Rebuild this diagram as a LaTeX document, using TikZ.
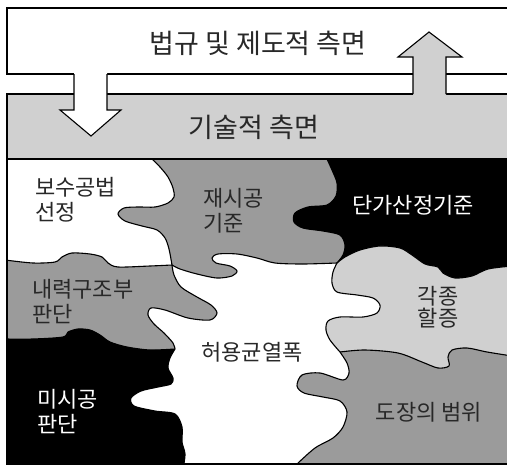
\documentclass[tikz,border=0pt]{standalone}
\usepackage{fontspec}
\setmainfont{Noto Sans CJK KR}
\definecolor{lightgr}{RGB}{208,208,208}
\definecolor{midgr}{RGB}{155,155,155}
\definecolor{txt}{RGB}{40,40,40}
\tikzset{
  bd/.style={draw=black, line width=1.1pt, line join=round},
  frameline/.style={draw=black, line width=1.1pt},
  lbl/.style={inner sep=0pt, text=txt, font=\fontsize{22}{25}\selectfont},
  lblw/.style={lbl, text=white},
  big/.style={inner sep=0pt, text=txt, font=\fontsize{27}{30}\selectfont},
}
\begin{document}
\begin{tikzpicture}[x=1pt,y=-1pt]
\useasboundingbox (0,0) rectangle (507,466);
\clip (0,0) rectangle (507,466);
% bands
\draw[frameline, fill=white] (7,8) rectangle (525,74);
\draw[frameline, fill=lightgr] (7,94) rectangle (525,159);
% down arrow
\fill[white] (74,73) -- (74,110) -- (60,110) -- (91,136) -- (121,110) -- (107,110) -- (107,73) -- cycle;
\draw[frameline, line join=miter] (74,74) -- (74,110) -- (60,110) -- (91,136) -- (121,110) -- (107,110) -- (107,74);
% up arrow
\fill[lightgr] (413,95) -- (413,57) -- (398,57) -- (429,32) -- (462,57) -- (446,57) -- (446,95) -- cycle;
\draw[frameline, line join=miter] (413,94) -- (413,57) -- (398,57) -- (429,32) -- (462,57) -- (446,57) -- (446,94);
\node[big] (t1) at (258,43) {법규 및 제도적 측면};
\node[big] (t2) at (254,127) {기술적 측면};
% puzzle
\begin{scope}
\clip (7,159) rectangle (507,464);
\fill[white] (0,150) rectangle (520,470);
% 재시공 기준
\fill[midgr] (152,150) -- plot[smooth] coordinates {(152,159) (160,167) (168,177) (173,188) (174,197) (168,203) (155,207) (138,207) (124,208) (118,214) (125,221) (142,226) (157,230) (165,238) (169,249) (172,265)}
 -- plot[smooth] coordinates {(172,265) (180,269) (197,274) (217,278) (232,276) (237,271) (230,266) (216,263) (212,258) (218,254) (237,254) (257,258) (275,263) (303,264) (337,263)}
 -- plot[smooth] coordinates {(337,263) (343,255) (345,245) (340,235) (323,231) (303,228) (294,222) (295,213) (308,207) (327,205) (336,196) (337,183) (332,170) (327,159)}
 -- (327,150) -- cycle;
% 단가산정기준
\fill[black] (327,150) -- plot[smooth] coordinates {(327,159) (332,170) (337,183) (336,196) (327,205) (308,207) (295,213) (294,222) (303,228) (323,231) (340,235) (345,245) (343,255) (337,263)}
 -- plot[smooth] coordinates {(337,263) (345,257) (360,250) (380,246) (400,248) (412,255) (425,264) (438,267) (443,273) (455,278) (472,276) (488,269) (512,266)}
 -- (512,150) -- cycle;
% 각종 할증
\fill[lightgr] (337,263) -- plot[smooth] coordinates {(337,263) (333,272) (332,283) (337,292) (357,295) (373,298) (380,305) (377,313) (363,317) (340,317) (328,321) (326,330) (330,340) (340,352)}
 -- plot[smooth] coordinates {(340,352) (365,350) (398,353) (422,362) (438,368) (449,366) (448,357) (452,350) (467,348) (487,352) (512,356)}
 -- plot[smooth] coordinates {(512,266) (488,269) (472,276) (455,278) (443,273) (438,267) (425,264) (412,255) (400,248) (380,246) (360,250) (345,257) (337,263)}
 -- cycle;
% 도장의 범위
\fill[midgr] (297,470) -- plot[smooth] coordinates {(297,464) (315,448) (333,438) (343,427) (347,412) (340,401) (323,397) (304,393) (297,386) (302,375) (320,373) (343,380) (349,373) (347,363) (340,352)}
 -- plot[smooth] coordinates {(340,352) (365,350) (398,353) (422,362) (438,368) (449,366) (448,357) (452,350) (467,348) (487,352) (512,356)}
 -- (512,470) -- cycle;
% 내력구조부 판단
\fill[midgr] (0,260) -- plot[smooth] coordinates {(5,260) (33,263) (55,262) (62,257) (72,253) (90,254) (102,257) (108,263) (118,267) (150,266) (172,265)}
 -- plot[smooth] coordinates {(172,265) (174,275) (181,287) (197,297) (211,305) (217,313) (210,320) (188,318) (165,310) (151,308) (148,315) (154,324) (164,333) (173,343) (175,349)}
 -- plot[smooth] coordinates {(175,349) (150,350) (127,347) (110,342) (100,335) (90,330) (78,329) (68,332) (63,337) (33,339) (5,339)}
 -- (0,339) -- cycle;
% 미시공 판단
\fill[black] (0,339) -- plot[smooth] coordinates {(5,339) (33,339) (63,337) (68,332) (78,329) (90,330) (100,335) (110,342) (127,347) (150,350) (175,349)}
 -- plot[smooth] coordinates {(175,349) (170,358) (168,368) (173,378) (171,384) (158,387) (141,391) (131,398) (134,406) (155,411) (175,414) (182,427) (182,442) (185,454) (183,470)}
 -- (0,470) -- cycle;
% boundaries
\draw[bd] plot[smooth] coordinates {(152,159) (160,167) (168,177) (173,188) (174,197) (168,203) (155,207) (138,207) (124,208) (118,214) (125,221) (142,226) (157,230) (165,238) (169,249) (172,265)};
\draw[bd] plot[smooth] coordinates {(172,265) (180,269) (197,274) (217,278) (232,276) (237,271) (230,266) (216,263) (212,258) (218,254) (237,254) (257,258) (275,263) (303,264) (337,263)};
\draw[bd] plot[smooth] coordinates {(327,159) (332,170) (337,183) (336,196) (327,205) (308,207) (295,213) (294,222) (303,228) (323,231) (340,235) (345,245) (343,255) (337,263)};
\draw[bd] plot[smooth] coordinates {(337,263) (345,257) (360,250) (380,246) (400,248) (412,255) (425,264) (438,267) (443,273) (455,278) (472,276) (488,269) (512,266)};
\draw[bd] plot[smooth] coordinates {(337,263) (333,272) (332,283) (337,292) (357,295) (373,298) (380,305) (377,313) (363,317) (340,317) (328,321) (326,330) (330,340) (340,352)};
\draw[bd] plot[smooth] coordinates {(340,352) (365,350) (398,353) (422,362) (438,368) (449,366) (448,357) (452,350) (467,348) (487,352) (512,356)};
\draw[bd] plot[smooth] coordinates {(297,464) (315,448) (333,438) (343,427) (347,412) (340,401) (323,397) (304,393) (297,386) (302,375) (320,373) (343,380) (349,373) (347,363) (340,352)};
\draw[bd] plot[smooth] coordinates {(5,260) (33,263) (55,262) (62,257) (72,253) (90,254) (102,257) (108,263) (118,267) (150,266) (172,265)};
\draw[bd] plot[smooth] coordinates {(172,265) (174,275) (181,287) (197,297) (211,305) (217,313) (210,320) (188,318) (165,310) (151,308) (148,315) (154,324) (164,333) (173,343) (175,349)};
\draw[bd] plot[smooth] coordinates {(5,339) (33,339) (63,337) (68,332) (78,329) (90,330) (100,335) (110,342) (127,347) (150,350) (175,349)};
\draw[bd] plot[smooth] coordinates {(175,349) (170,358) (168,368) (173,378) (171,384) (158,387) (141,391) (131,398) (134,406) (155,411) (175,414) (182,427) (182,442) (185,454) (183,470)};
\end{scope}
% frame
\draw[frameline] (7,159) -- (7,464) -- (520,464);
\draw[frameline] (7,159) -- (520,159);
% labels
\node[lbl, anchor=west, align=left] (p1) at (35,200) {보수공법\\선정};
\node[lbl, anchor=west, align=left] (p2) at (203,211) {재시공\\기준};
\node[lblw] (p3) at (413,205) {단가산정기준};
\node[lbl, anchor=west, align=left] (p4) at (32,302) {내력구조부\\판단};
\node[lbl] (p5) at (252,352) {허용균열폭};
\node[lbl, align=center, font=\fontsize{22}{22}\selectfont] (p6) at (438,307) {각종\\할증};
\node[lblw, anchor=west, align=left] (p7) at (37,412) {미시공\\판단};
\node[lbl] (p8) at (429,412) {도장의 범위};
\end{tikzpicture}
\end{document}
